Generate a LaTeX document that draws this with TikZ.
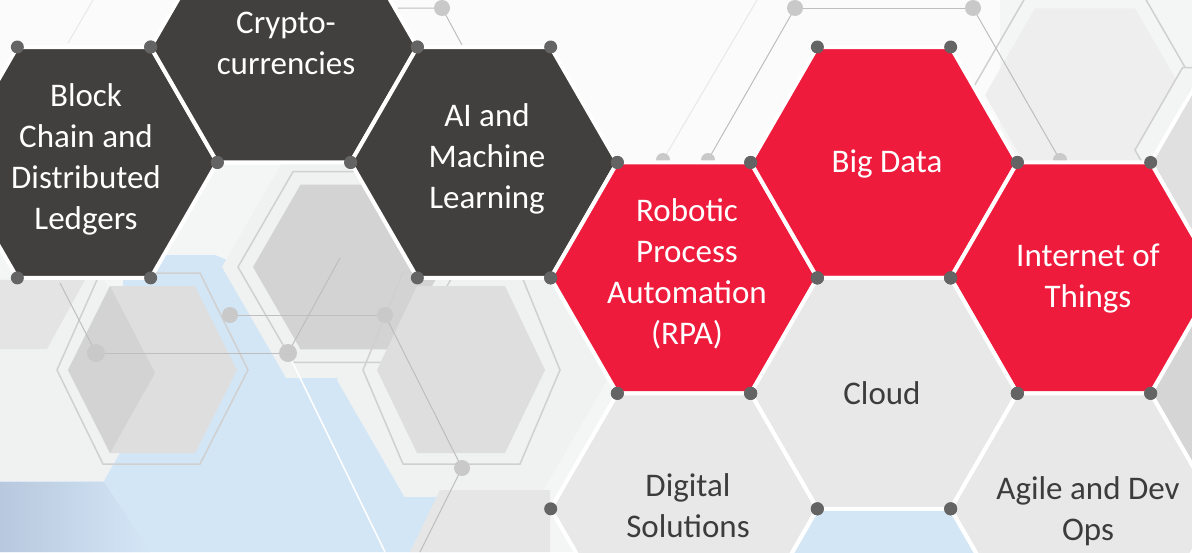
\documentclass[tikz,border=0pt]{standalone}
\usepackage{fontspec}
\setmainfont{Carlito}
\definecolor{hexdark}{HTML}{41403E}
\definecolor{hexred}{HTML}{EE1B3C}
\definecolor{hexlight}{HTML}{E8E8E8}
\definecolor{dotc}{HTML}{646464}
\definecolor{tdark}{HTML}{3C3C3C}
\definecolor{bgpale}{HTML}{F0F1F1}
\definecolor{bgblue}{HTML}{D3E6F6}
\definecolor{bggray}{HTML}{DEDEDE}
\definecolor{bggray2}{HTML}{D3D3D3}
\definecolor{ringc}{HTML}{D0D0D0}
\definecolor{linkc}{HTML}{BEBEBE}
\definecolor{circc}{HTML}{C9C9C9}
\definecolor{bgbase}{HTML}{F4F5F5}
\definecolor{bgtop}{HTML}{FBFBFB}
\definecolor{bgblue2}{HTML}{B8C8DE}
\definecolor{bgg3}{HTML}{E4E4E4}
\definecolor{bgg4}{HTML}{E6E6E6}
\definecolor{bgg5}{HTML}{EEEEEE}
\definecolor{bgg6}{HTML}{F3F4F4}
\definecolor{bgg7}{HTML}{E0E0E0}
\definecolor{bgg8}{HTML}{D5D5D5}
\definecolor{faint1}{HTML}{E8E8E8}
\definecolor{darkline}{HTML}{5A5A5A}
\newcommand{\hexpoly}[4]{\path[#4] ({#1+#3},{#2}) -- ({#1+0.5*#3},{#2+0.8660254*#3}) -- ({#1-0.5*#3},{#2+0.8660254*#3}) -- ({#1-#3},{#2}) -- ({#1-0.5*#3},{#2-0.8660254*#3}) -- ({#1+0.5*#3},{#2-0.8660254*#3}) -- cycle;}
\newcommand{\hexdots}[3]{\foreach \a in {0,60,...,300}{\fill[dotc] ({#1+#3*cos(\a)},{#2+#3*sin(\a)}) circle (6.5pt);}}
\tikzset{
  mainhex/.style={draw=white, line width=4pt},
  wtext/.style={text=white, font=\fontsize{33}{41}\selectfont, align=center, inner sep=0pt},
  dtext/.style={text=tdark, font=\fontsize{33}{41}\selectfont, align=center, inner sep=0pt},
  ring/.style={draw=ringc, line width=1.5pt},
  link/.style={draw=linkc, line width=1pt},
  knot/.style={fill=circc}
}
\begin{document}
\begin{tikzpicture}[x=1pt,y=-1pt]
\useasboundingbox (0,0) rectangle (1192,552);
\clip (0,0) rectangle (1192,552);
% background
\fill[bgbase] (0,0) rectangle (1192,552);
\fill[bgtop] (0,0) rectangle (1000,165);
\fill[bgblue] (0,552) -- (0,470) -- (110,470) -- (125,255) -- (215,255) -- (300,290) -- (520,290) -- (520,552) -- cycle;
\shade[left color=bgblue2, right color=bgblue] (0,482) -- (104,482) -- (150,552) -- (0,552) -- cycle;
% pale hexes
\hexpoly{45}{380}{117}{fill=bgpale}
\hexpoly{472}{380}{135}{fill=bgpale}
\hexpoly{350}{267}{128}{fill=bgpale}
\fill[bgg3] (0,280) -- (85,280) -- (47,349) -- (0,349) -- cycle;
% gray hexes and rings
\hexpoly{348}{267}{95}{fill=bggray2}
\hexpoly{348}{267}{110}{ring}
\fill[bggray] (68,370) -- (110,286) -- (195,286) -- (237,370) -- (195,453) -- (110,453) -- cycle;
\fill[bggray2] (68,370) -- (110,286) -- (155,373) -- (110,453) -- cycle;
\draw[ring] (57,370) -- (100,273) -- (200,273) -- (248,370) -- (200,464) -- (103,464) -- cycle;
\fill[bggray] (377,370) -- (417,286) -- (505,286) -- (545,370) -- (505,453) -- (417,453) -- cycle;
\draw[ring] (363,370) -- (403,272) -- (520,272) -- (560,370) -- (520,464) -- (403,464) -- cycle;
\fill[bgg4] (440,490) -- (550,490) -- (550,552) -- (410,552) -- cycle;
% top right shapes
\hexpoly{1085}{95}{100}{fill=bgg5}
\hexpoly{1085}{95}{116}{ring}
\hexpoly{1230}{150}{95}{fill=bgg6, ring}
% connectors in background
\draw[link] (96,353) -- (288,353);
\draw[link] (96,353) -- (60,283);
\draw[link] (230,315) -- (385,315);
\draw[link] (288,353) -- (340,258);
\draw[white, line width=1.5pt] (288,353) -- (385,552);
\draw[link] (385,315) -- (462,468) -- (420,552);
\draw[link] (398,8) -- (442,8) -- (462,45);
\draw[link] (795,8) -- (973,8);
\draw[link] (795,8) -- (708,160);
\draw[draw=faint1, line width=1pt] (757,0) -- (663,160);
\draw[draw=faint1, line width=1pt] (93,0) -- (68,43);
\draw[link] (973,8) -- (1060,160);
\draw[draw=darkline, line width=0.8pt] (1152,160) -- (1192,88);
\fill[knot] (96,353) circle (9pt);
\fill[knot] (288,353) circle (9pt);
\fill[knot] (230,315) circle (8pt);
\fill[knot] (385,315) circle (8pt);
\fill[knot] (462,468) circle (8pt);
\fill[knot] (442,8) circle (8pt);
\fill[knot] (795,8) circle (8pt);
\fill[knot] (973,8) circle (8pt);
\fill[knot] (708,160) circle (7pt);
\fill[knot] (663,160) circle (7pt);
\fill[knot] (1060,160) circle (7pt);
% extra grid hexes
\hexpoly{1284}{162.45}{133.3}{mainhex, fill=bgg7}
\hexpoly{1284}{393.35}{133.3}{mainhex, fill=bgg8}
\hexpoly{884}{624.25}{133.3}{mainhex, fill=bgblue}
% main hexes
\hexpoly{84}{162.45}{133.3}{mainhex, fill=hexdark}
\hexpoly{284}{47}{133.3}{mainhex, fill=hexdark}
\hexpoly{484}{162.45}{133.3}{mainhex, fill=hexdark}
\hexpoly{684}{277.9}{133.3}{mainhex, fill=hexred}
\hexpoly{884}{162.45}{133.3}{mainhex, fill=hexred}
\hexpoly{1084}{277.9}{133.3}{mainhex, fill=hexred}
\hexpoly{884}{393.35}{133.3}{mainhex, fill=hexlight}
\hexpoly{684}{508.8}{133.3}{mainhex, fill=hexlight}
\hexpoly{1084}{508.8}{133.3}{mainhex, fill=hexlight}
% vertex dots
\hexdots{84}{162.45}{133.3}
\hexdots{284}{47}{133.3}
\hexdots{484}{162.45}{133.3}
\hexdots{684}{277.9}{133.3}
\hexdots{884}{162.45}{133.3}
\hexdots{1084}{277.9}{133.3}
\hexdots{884}{393.35}{133.3}
\hexdots{684}{508.8}{133.3}
\hexdots{1084}{508.8}{133.3}
% labels
\node[wtext] (block) at (86,159) {Block\\Chain and\\Distributed\\Ledgers};
\node[wtext] (crypto) at (286,43) {Crypto-\\currencies};
\node[wtext] (ai) at (487,159) {AI and\\Machine\\Learning};
\node[wtext] (rpa) at (687,274) {Robotic\\Process\\Automation\\(RPA)};
\node[wtext] (bigdata) at (887,164) {Big Data};
\node[wtext] (iot) at (1088,279) {Internet of\\Things};
\node[dtext] (cloud) at (882,393) {Cloud};
\node[dtext] (digital) at (688,506) {Digital\\Solutions};
\node[dtext] (agile) at (1088,511) {Agile and Dev\\Ops};
\end{tikzpicture}
\end{document}
